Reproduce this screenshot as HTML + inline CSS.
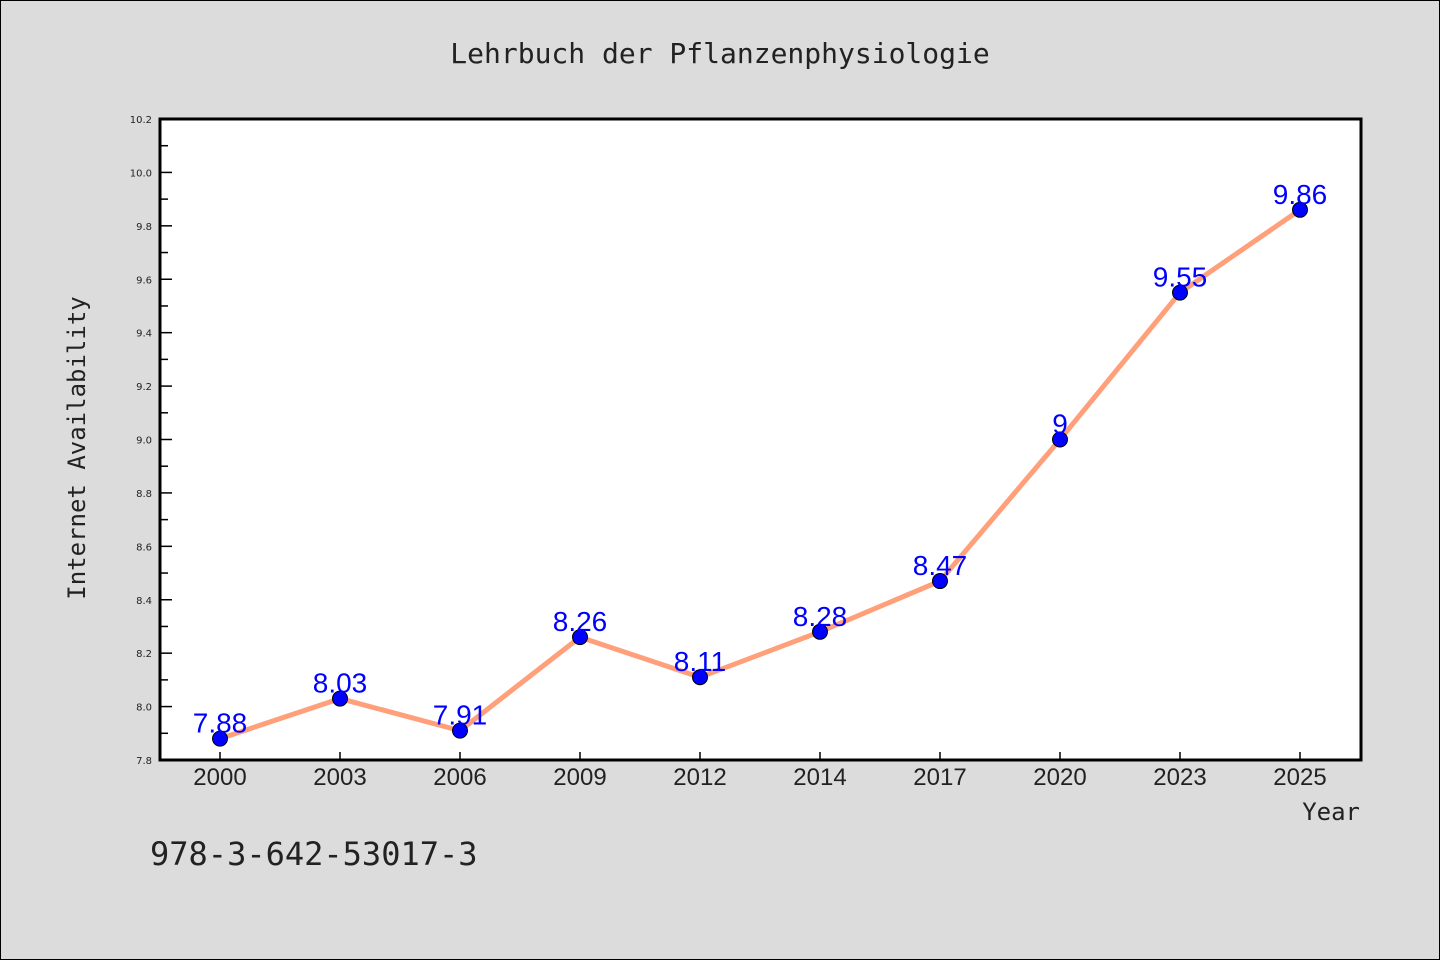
<!DOCTYPE html>
<html><head><meta charset="utf-8"><style>
body{margin:0;background:#dcdcdc;}
svg{display:block;}
</style></head><body>
<svg id="c" width="1440" height="960" xmlns="http://www.w3.org/2000/svg">
<rect x="0.5" y="0.5" width="1439" height="959" fill="#dcdcdc" stroke="#000" stroke-width="1"/>
<text x="720" y="63" text-anchor="middle" font-family="'WenQuanYi Zen Hei','DejaVu Sans Mono',monospace" font-size="28" fill="#222">Lehrbuch der Pflanzenphysiologie</text>
<rect x="160" y="119" width="1201" height="641" fill="#fff"/>
<g id="axes"></g>
<g id="series"></g>
<rect x="160" y="119" width="1201" height="641" fill="none" stroke="#000" stroke-width="3"/>
<text x="85" y="448" text-anchor="middle" transform="rotate(-90 85 448)" font-family="'WenQuanYi Zen Hei','DejaVu Sans Mono',monospace" font-size="24" fill="#222">Internet Availability</text>
<text x="1360" y="820" text-anchor="end" font-family="'WenQuanYi Zen Hei','DejaVu Sans Mono',monospace" font-size="24" fill="#222">Year</text>
<text x="150" y="865" font-family="'WenQuanYi Zen Hei','DejaVu Sans Mono',monospace" font-size="32" fill="#222">978-3-642-53017-3</text>
</svg>
<script>
const categories=["2000","2003","2006","2009","2012","2014","2017","2020","2023","2025"];
const values=[7.88,8.03,7.91,8.26,8.11,8.28,8.47,9.0,9.55,9.86];
const valueLabels=["7.88","8.03","7.91","8.26","8.11","8.28","8.47","9","9.55","9.86"];
const yTicks=[7.8,8.0,8.2,8.4,8.6,8.8,9.0,9.2,9.4,9.6,9.8,10.0,10.2];
const NS="http://www.w3.org/2000/svg";
const L=160,R=1361,T=119,B=760,yMin=7.8,yMax=10.2;
const x=i=>220+i*(1300-220)/(categories.length-1);
const y=v=>B-(v-yMin)/(yMax-yMin)*(B-T);
function mk(t,a,p){const e=document.createElementNS(NS,t);for(const k in a)e.setAttribute(k,a[k]);p.appendChild(e);return e;}
const ax=document.getElementById('axes'),se=document.getElementById('series');
yTicks.forEach((v,i)=>{
 const l=mk('line',{x1:L,x2:L+12,y1:y(v),y2:y(v),stroke:'#000','stroke-width':1.5},ax);
 
 
 if(i<yTicks.length-1){const m=mk('line',{x1:L,x2:L+8,y1:y(v+0.1),y2:y(v+0.1),stroke:'#000','stroke-width':1.5},ax);
 
 }
 const t=mk('text',{x:L-8,y:y(v)+4,'text-anchor':'end','font-family':'DejaVu Sans,sans-serif','font-size':10,fill:'#222'},ax);
 t.textContent=v.toFixed(1);
 
 
});
categories.forEach((c,i)=>{
 const l=mk('line',{x1:x(i),x2:x(i),y1:B,y2:B-8,stroke:'#000','stroke-width':1.5},ax);
 
 
 const t=mk('text',{x:x(i),y:785,'text-anchor':'middle','font-family':"'WenQuanYi Zen Hei',sans-serif",'font-size':24,fill:'#222'},ax);
 t.textContent=c;
 
 
});
const pl=mk('polyline',{points:values.map((v,i)=>x(i)+','+y(v)).join(' '),fill:'none',stroke:'#ffa07a','stroke-width':5,'stroke-linejoin':'round'},se);


values.forEach((v,i)=>{
 const c=mk('circle',{cx:x(i),cy:y(v),r:7.5,fill:'#0000ff',stroke:'#000','stroke-width':1},se);
 
 
 const t=mk('text',{x:x(i),y:y(v)-6,'text-anchor':'middle','font-family':"'WenQuanYi Zen Hei',sans-serif",'font-size':28,fill:'#0000ff'},se);
 t.textContent=valueLabels[i];
 
 
});
</script>
</body></html>
